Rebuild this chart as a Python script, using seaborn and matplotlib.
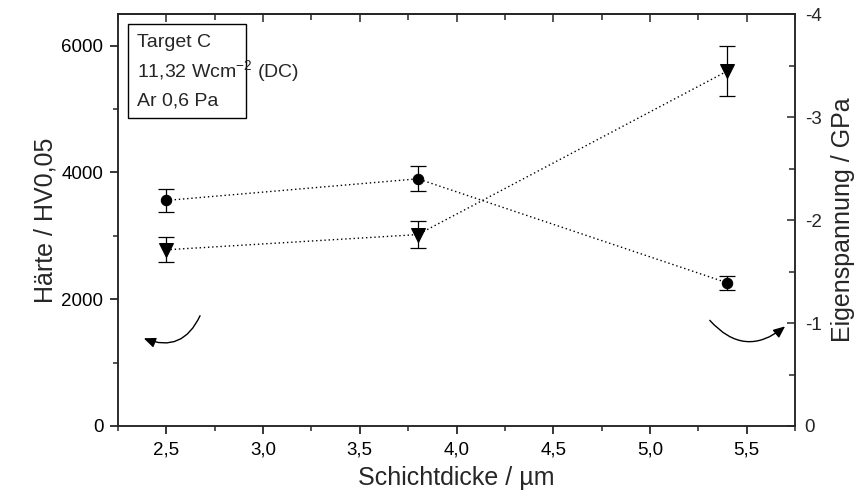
import matplotlib
matplotlib.use("Agg")
import matplotlib.pyplot as plt
import seaborn as sns
import numpy as np
from matplotlib.ticker import MultipleLocator, FuncFormatter
from matplotlib.patches import Rectangle

# ---- data ----
schichtdicke = [2.5, 3.8, 5.4]
haerte = [2780, 3020, 5600]          # HV0,05 (triangles, left axis)
haerte_err = [200, 210, 390]
spannung = [-2.19, -2.40, -1.39]     # GPa (circles, right axis)
spannung_err = [0.11, 0.12, 0.07]

x_ticks = [2.5, 3.0, 3.5, 4.0, 4.5, 5.0, 5.5]
y_left_ticks = [0, 2000, 4000, 6000]
y_right_ticks = [0, -1, -2, -3, -4]
info_lines = ["Target C", "11,32 Wcm$^{-2}$ (DC)", "Ar 0,6 Pa"]

sns.set_style("ticks")
plt.rcParams["font.family"] = ["Liberation Sans", "DejaVu Sans"]
plt.rcParams["mathtext.default"] = "regular"
plt.rcParams["axes.unicode_minus"] = False

fig = plt.figure(figsize=(8.57, 5.01), dpi=100)
ax = fig.add_axes([118/857, 1-426/501, (795-118)/857, (426-14)/501])

lw_ax = 1.1
for s in ax.spines.values():
    s.set_linewidth(lw_ax)
    s.set_visible(True)

# hardness (triangles)
sns.lineplot(x=schichtdicke, y=haerte, ax=ax, color="black", linestyle=(0, (1, 2)),
             linewidth=1.0, marker="v", markersize=10, markeredgecolor="black",
             markerfacecolor="black")
ax.errorbar(schichtdicke, haerte, yerr=haerte_err, fmt="none", ecolor="black",
            elinewidth=0.9, capsize=6, capthick=0.9)

ax.set_xlim(2.25, 5.75)
ax.set_ylim(0, 6500)
ax.set_xticks(x_ticks)
ax.xaxis.set_minor_locator(MultipleLocator(0.25))
ax.xaxis.set_major_formatter(FuncFormatter(lambda v, p: f"{v:.1f}".replace(".", ",")))
ax.set_yticks(y_left_ticks)
ax.yaxis.set_minor_locator(MultipleLocator(1000))
ax.tick_params(axis="both", which="major", direction="out", length=5.5, width=lw_ax,
               labelsize=13.5, colors="black")
ax.tick_params(axis="both", which="minor", direction="out", length=3.5, width=lw_ax)
ax.tick_params(axis="x", pad=6)
ax.tick_params(axis="y", pad=5)
ax.set_xlabel("Schichtdicke / µm", fontsize=18, labelpad=5)
ax.set_ylabel("Härte / HV0,05", fontsize=18, labelpad=3)

# top axis ticks inward
sec = ax.secondary_xaxis("top")
sec.set_xticks(x_ticks)
sec.xaxis.set_minor_locator(MultipleLocator(0.25))
sec.tick_params(which="major", direction="in", length=6, width=lw_ax, labeltop=False)
sec.tick_params(which="minor", direction="in", length=4, width=lw_ax)
sec.spines["top"].set_linewidth(lw_ax)

# stress (circles) on right axis
ax2 = ax.twinx()
sns.lineplot(x=schichtdicke, y=spannung, ax=ax2, color="black", linestyle=(0, (1, 2)),
             linewidth=1.0, marker="o", markersize=7.5, markeredgecolor="black",
             markerfacecolor="black")
ax2.errorbar(schichtdicke, spannung, yerr=spannung_err, fmt="none", ecolor="black",
             elinewidth=0.9, capsize=6, capthick=0.9)
ax2.set_ylim(0, -4)
ax2.set_yticks(y_right_ticks)
ax2.yaxis.set_minor_locator(MultipleLocator(0.5))
ax2.yaxis.set_major_formatter(FuncFormatter(lambda v, p: "0" if v == 0 else f"{v:.0f}"))
ax2.tick_params(axis="y", which="major", direction="in", length=6, width=lw_ax,
                labelsize=13.5, pad=7)
ax2.tick_params(axis="y", which="minor", direction="in", length=4, width=lw_ax)
ax2.set_ylabel("Eigenspannung / GPa", fontsize=18, labelpad=7)
for s in ax2.spines.values():
    s.set_linewidth(lw_ax)

# info box
ax.add_patch(Rectangle((0.0148, 0.7476), 0.174, 0.228, transform=ax.transAxes,
                       facecolor="white", edgecolor="black", linewidth=1.0, zorder=5))
for ypos, txt in zip([0.932, 0.862, 0.789], info_lines):
    ax.text(0.028, ypos, txt, transform=ax.transAxes, fontsize=14, va="center",
            ha="left", zorder=6)

# curved arrows
ax.annotate("", xy=(2.37, 1400), xytext=(2.68, 1780),
            arrowprops=dict(arrowstyle="-|>,head_length=0.7,head_width=0.3",
                            connectionstyle="arc3,rad=-0.5", color="black", lw=1.0))
ax.annotate("", xy=(5.71, 1600), xytext=(5.3, 1700),
            arrowprops=dict(arrowstyle="-|>,head_length=0.7,head_width=0.3",
                            connectionstyle="arc3,rad=0.5", color="black", lw=1.0))

fig.savefig("out.png", dpi=100)
